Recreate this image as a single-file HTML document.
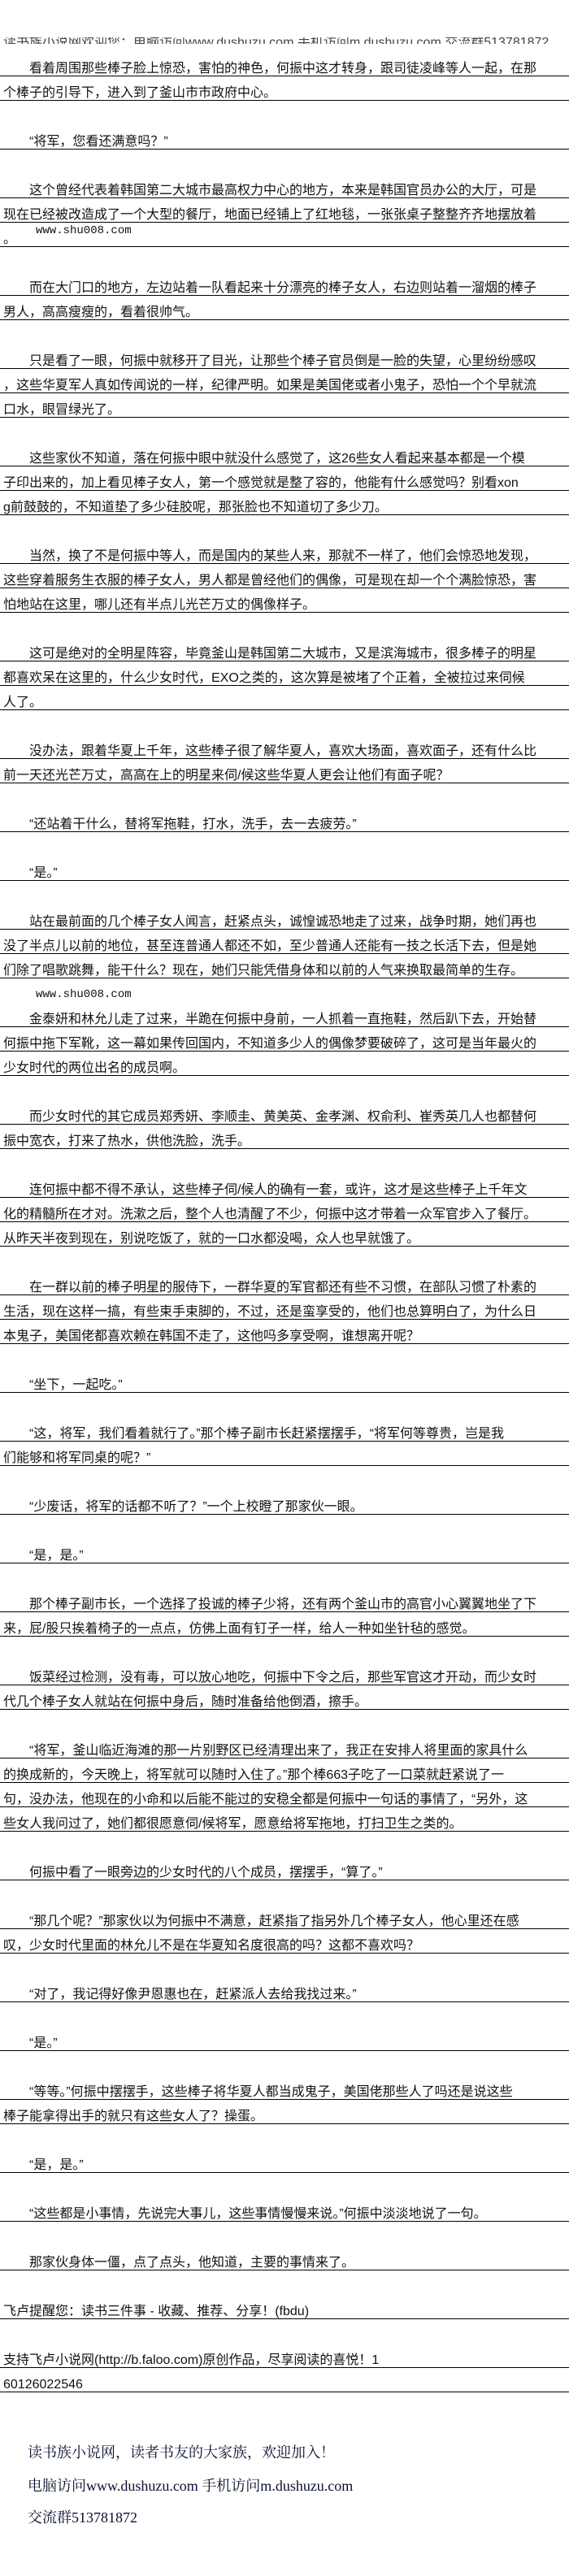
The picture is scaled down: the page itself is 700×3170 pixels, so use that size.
<!DOCTYPE html>
<html><head><meta charset="utf-8">
<style>
html,body{margin:0;padding:0;background:#fff;}
body{width:700px;height:3170px;position:relative;overflow:hidden;font-family:"Liberation Sans","WenQuanYi Zen Hei","Noto Sans CJK SC",sans-serif;font-size:16px;color:#111;}
#wrap{position:absolute;left:0;top:34px;width:700px;}
.r{height:29px;border-bottom:1px solid #000;position:relative;white-space:nowrap;}
.r span{position:absolute;left:4px;bottom:0;line-height:17px;}
.r.i span{left:36px;}
.b{height:30px;position:relative;}
.hd{height:30px;position:relative;white-space:nowrap;color:#444;}
.hd span{position:absolute;left:4px;top:12px;line-height:14px;height:8px;overflow:hidden;}
.foot{position:absolute;left:34px;font-family:"Liberation Serif","Noto Serif CJK SC",serif;font-size:18px;color:#0a1030;white-space:nowrap;}
</style></head><body>
<div id="wrap">
<div class="hd"><span>读书族小说网欢迎您：电脑访问www.dushuzu.com 手机访问m.dushuzu.com 交流群513781872</span></div>
<div class="r i"><span>看着周围那些棒子脸上惊恐，害怕的神色，何振中这才转身，跟司徒凌峰等人一起，在那</span></div>
<div class="r"><span>个棒子的引导下，进入到了釜山市市政府中心。</span></div>
<div class="b"></div>
<div class="r i"><span>“将军，您看还满意吗？”</span></div>
<div class="b"></div>
<div class="r i"><span>这个曾经代表着韩国第二大城市最高权力中心的地方，本来是韩国官员办公的大厅，可是</span></div>
<div class="r"><span>现在已经被改造成了一个大型的餐厅，地面已经铺上了红地毯，一张张桌子整整齐齐地摆放着</span></div>
<div class="r"><span>。</span><span style="left:44px;bottom:10px;font-family:'Liberation Mono',monospace;font-size:14px;">www.shu008.com</span></div>
<div class="b"></div>
<div class="r i"><span>而在大门口的地方，左边站着一队看起来十分漂亮的棒子女人，右边则站着一溜烟的棒子</span></div>
<div class="r"><span>男人，高高瘦瘦的，看着很帅气。</span></div>
<div class="b"></div>
<div class="r i"><span>只是看了一眼，何振中就移开了目光，让那些个棒子官员倒是一脸的失望，心里纷纷感叹</span></div>
<div class="r"><span>，这些华夏军人真如传闻说的一样，纪律严明。如果是美国佬或者小鬼子，恐怕一个个早就流</span></div>
<div class="r"><span>口水，眼冒绿光了。</span></div>
<div class="b"></div>
<div class="r i"><span>这些家伙不知道，落在何振中眼中就没什么感觉了，这26些女人看起来基本都是一个模</span></div>
<div class="r"><span>子印出来的，加上看见棒子女人，第一个感觉就是整了容的，他能有什么感觉吗？别看xon</span></div>
<div class="r"><span>g前鼓鼓的，不知道垫了多少硅胶呢，那张脸也不知道切了多少刀。</span></div>
<div class="b"></div>
<div class="r i"><span>当然，换了不是何振中等人，而是国内的某些人来，那就不一样了，他们会惊恐地发现，</span></div>
<div class="r"><span>这些穿着服务生衣服的棒子女人，男人都是曾经他们的偶像，可是现在却一个个满脸惊恐，害</span></div>
<div class="r"><span>怕地站在这里，哪儿还有半点儿光芒万丈的偶像样子。</span></div>
<div class="b"></div>
<div class="r i"><span>这可是绝对的全明星阵容，毕竟釜山是韩国第二大城市，又是滨海城市，很多棒子的明星</span></div>
<div class="r"><span>都喜欢呆在这里的，什么少女时代，EXO之类的，这次算是被堵了个正着，全被拉过来伺候</span></div>
<div class="r"><span>人了。</span></div>
<div class="b"></div>
<div class="r i"><span>没办法，跟着华夏上千年，这些棒子很了解华夏人，喜欢大场面，喜欢面子，还有什么比</span></div>
<div class="r"><span>前一天还光芒万丈，高高在上的明星来伺/候这些华夏人更会让他们有面子呢？</span></div>
<div class="b"></div>
<div class="r i"><span>“还站着干什么，替将军拖鞋，打水，洗手，去一去疲劳。”</span></div>
<div class="b"></div>
<div class="r i"><span>“是。”</span></div>
<div class="b"></div>
<div class="r i"><span>站在最前面的几个棒子女人闻言，赶紧点头，诚惶诚恐地走了过来，战争时期，她们再也</span></div>
<div class="r"><span>没了半点儿以前的地位，甚至连普通人都还不如，至少普通人还能有一技之长活下去，但是她</span></div>
<div class="r"><span>们除了唱歌跳舞，能干什么？现在，她们只能凭借身体和以前的人气来换取最简单的生存。</span></div>
<div class="b"><span style="position:absolute;left:44px;bottom:2px;font-family:'Liberation Mono',monospace;font-size:14px;">www.shu008.com</span></div>
<div class="r i"><span>金泰妍和林允儿走了过来，半跪在何振中身前，一人抓着一直拖鞋，然后趴下去，开始替</span></div>
<div class="r"><span>何振中拖下军靴，这一幕如果传回国内，不知道多少人的偶像梦要破碎了，这可是当年最火的</span></div>
<div class="r"><span>少女时代的两位出名的成员啊。</span></div>
<div class="b"></div>
<div class="r i"><span>而少女时代的其它成员郑秀妍、李顺圭、黄美英、金孝渊、权俞利、崔秀英几人也都替何</span></div>
<div class="r"><span>振中宽衣，打来了热水，供他洗脸，洗手。</span></div>
<div class="b"></div>
<div class="r i"><span>连何振中都不得不承认，这些棒子伺/候人的确有一套，或许，这才是这些棒子上千年文</span></div>
<div class="r"><span>化的精髓所在才对。洗漱之后，整个人也清醒了不少，何振中这才带着一众军官步入了餐厅。</span></div>
<div class="r"><span>从昨天半夜到现在，别说吃饭了，就的一口水都没喝，众人也早就饿了。</span></div>
<div class="b"></div>
<div class="r i"><span>在一群以前的棒子明星的服侍下，一群华夏的军官都还有些不习惯，在部队习惯了朴素的</span></div>
<div class="r"><span>生活，现在这样一搞，有些束手束脚的，不过，还是蛮享受的，他们也总算明白了，为什么日</span></div>
<div class="r"><span>本鬼子，美国佬都喜欢赖在韩国不走了，这他吗多享受啊，谁想离开呢？</span></div>
<div class="b"></div>
<div class="r i"><span>“坐下，一起吃。”</span></div>
<div class="b"></div>
<div class="r i"><span>“这，将军，我们看着就行了。”那个棒子副市长赶紧摆摆手，“将军何等尊贵，岂是我</span></div>
<div class="r"><span>们能够和将军同桌的呢？”</span></div>
<div class="b"></div>
<div class="r i"><span>“少废话，将军的话都不听了？”一个上校瞪了那家伙一眼。</span></div>
<div class="b"></div>
<div class="r i"><span>“是，是。”</span></div>
<div class="b"></div>
<div class="r i"><span>那个棒子副市长，一个选择了投诚的棒子少将，还有两个釜山市的高官小心翼翼地坐了下</span></div>
<div class="r"><span>来，屁/股只挨着椅子的一点点，仿佛上面有钉子一样，给人一种如坐针毡的感觉。</span></div>
<div class="b"></div>
<div class="r i"><span>饭菜经过检测，没有毒，可以放心地吃，何振中下令之后，那些军官这才开动，而少女时</span></div>
<div class="r"><span>代几个棒子女人就站在何振中身后，随时准备给他倒酒，擦手。</span></div>
<div class="b"></div>
<div class="r i"><span>“将军，釜山临近海滩的那一片别野区已经清理出来了，我正在安排人将里面的家具什么</span></div>
<div class="r"><span>的换成新的，今天晚上，将军就可以随时入住了。”那个棒663子吃了一口菜就赶紧说了一</span></div>
<div class="r"><span>句，没办法，他现在的小命和以后能不能过的安稳全都是何振中一句话的事情了，“另外，这</span></div>
<div class="r"><span>些女人我问过了，她们都很愿意伺/候将军，愿意给将军拖地，打扫卫生之类的。</span></div>
<div class="b"></div>
<div class="r i"><span>何振中看了一眼旁边的少女时代的八个成员，摆摆手，“算了。”</span></div>
<div class="b"></div>
<div class="r i"><span>“那几个呢？”那家伙以为何振中不满意，赶紧指了指另外几个棒子女人，他心里还在感</span></div>
<div class="r"><span>叹，少女时代里面的林允儿不是在华夏知名度很高的吗？这都不喜欢吗？</span></div>
<div class="b"></div>
<div class="r i"><span>“对了，我记得好像尹恩惠也在，赶紧派人去给我找过来。”</span></div>
<div class="b"></div>
<div class="r i"><span>“是。”</span></div>
<div class="b"></div>
<div class="r i"><span>“等等。”何振中摆摆手，这些棒子将华夏人都当成鬼子，美国佬那些人了吗还是说这些</span></div>
<div class="r"><span>棒子能拿得出手的就只有这些女人了？操蛋。</span></div>
<div class="b"></div>
<div class="r i"><span>“是，是。”</span></div>
<div class="b"></div>
<div class="r i"><span>“这些都是小事情，先说完大事儿，这些事情慢慢来说。”何振中淡淡地说了一句。</span></div>
<div class="b"></div>
<div class="r i"><span>那家伙身体一僵，点了点头，他知道，主要的事情来了。</span></div>
<div class="b"></div>
<div class="r"><span>飞卢提醒您：读书三件事 - 收藏、推荐、分享！(fbdu)</span></div>
<div class="b"></div>
<div class="r"><span>支持飞卢小说网(http://b.faloo.com)原创作品，尽享阅读的喜悦！1</span></div>
<div class="r"><span>60126022546</span></div>
</div>
<div class="foot" style="top:3004px;">读书族小说网，读者书友的大家族，欢迎加入！</div>
<div class="foot" style="top:3045px;">电脑访问www.dushuzu.com 手机访问m.dushuzu.com</div>
<div class="foot" style="top:3084px;">交流群513781872</div>
</body></html>
